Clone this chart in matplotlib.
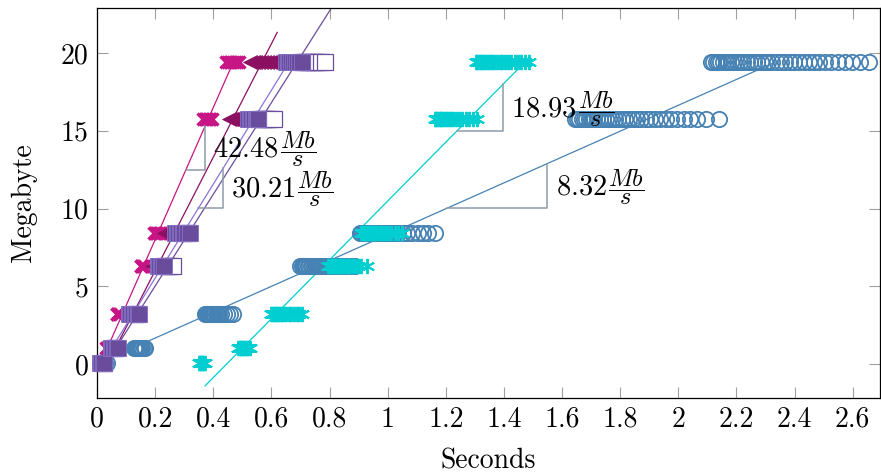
import numpy as np
import matplotlib
matplotlib.use("Agg")
import matplotlib.pyplot as plt

# --- data ---
mb_levels = [0.05, 1.05, 3.2, 6.3, 8.4, 15.75, 19.4]

t_magenta = [
    [0.008, 0.010, 0.013],
    [0.030, 0.033, 0.036, 0.040],
    [0.068, 0.070, 0.072, 0.075, 0.078],
    [0.150, 0.153, 0.156, 0.159, 0.162],
    [0.196, 0.200, 0.204, 0.208, 0.212, 0.216, 0.220],
    [0.365, 0.370, 0.375, 0.380, 0.385, 0.390, 0.396],
    [0.444, 0.450, 0.456, 0.462, 0.468, 0.474, 0.480, 0.489],
]
t_darkmag = [
    [0.015, 0.020, 0.025],
    [0.047, 0.050, 0.054, 0.058],
    [0.110, 0.115, 0.120, 0.125],
    [0.190, 0.195, 0.200, 0.205],
    [0.230, 0.233, 0.236, 0.240],
    [0.454, 0.460, 0.465, 0.470, 0.475, 0.480, 0.485],
    [0.526, 0.535, 0.545, 0.555, 0.565, 0.575, 0.585, 0.595, 0.602],
]
t_slate = [
    [0.020, 0.025],
    [0.060, 0.066],
    [0.130, 0.140],
    [0.230, 0.240, 0.250, 0.262],
    [0.300, 0.312],
    [0.555, 0.566, 0.574, 0.585, 0.596, 0.610],
    [0.702, 0.711, 0.722, 0.731, 0.742, 0.750, 0.761, 0.772, 0.785],
]
t_purple = [
    [0.010, 0.015, 0.020, 0.025],
    [0.048, 0.053, 0.058, 0.063, 0.068, 0.072],
    [0.110, 0.115, 0.120, 0.125, 0.130, 0.135, 0.140, 0.145],
    [0.210, 0.215, 0.220, 0.225, 0.230],
    [0.270, 0.275, 0.280, 0.285, 0.290, 0.295, 0.300, 0.310, 0.320],
    [0.520, 0.525, 0.530, 0.535, 0.540, 0.546, 0.552, 0.555],
    [0.650, 0.656, 0.661, 0.667, 0.673, 0.680, 0.688, 0.696, 0.705],
]
t_cyan = [
    [0.352, 0.356, 0.359, 0.362, 0.366, 0.370],
    [0.486, 0.491, 0.495, 0.500, 0.504, 0.509, 0.514, 0.520, 0.527],
    [0.600, 0.605, 0.610, 0.616, 0.620, 0.626, 0.633, 0.638, 0.645, 0.651,
     0.660, 0.667, 0.677, 0.688, 0.696, 0.705],
    [0.796, 0.800, 0.806, 0.810, 0.815, 0.821, 0.826, 0.833, 0.838, 0.845,
     0.853, 0.860, 0.867, 0.877, 0.886, 0.898, 0.910, 0.930],
    [0.908, 0.912, 0.917, 0.923, 0.927, 0.932, 0.939, 0.944, 0.950, 0.957,
     0.965, 0.972, 0.980, 0.991, 1.000, 1.012, 1.025, 1.037, 1.050],
    [1.163, 1.168, 1.173, 1.179, 1.184, 1.190, 1.196, 1.203, 1.211, 1.218,
     1.226, 1.236, 1.245, 1.256, 1.268, 1.280, 1.294, 1.308],
    [1.304, 1.309, 1.315, 1.320, 1.326, 1.331, 1.338, 1.345, 1.352, 1.360,
     1.367, 1.376, 1.385, 1.395, 1.404, 1.414, 1.425, 1.437, 1.448, 1.460,
     1.473, 1.487],
]
t_steel = [
    [0.012, 0.016, 0.019, 0.022, 0.025, 0.029, 0.034],
    [0.128, 0.131, 0.134, 0.137, 0.140, 0.142, 0.145, 0.148, 0.151, 0.155,
     0.160, 0.166],
    [0.371, 0.374, 0.377, 0.380, 0.383, 0.386, 0.389, 0.392, 0.395, 0.398,
     0.401, 0.404, 0.408, 0.412, 0.416, 0.421, 0.427, 0.436, 0.447, 0.458, 0.468],
    [0.700, 0.704, 0.708, 0.712, 0.716, 0.720, 0.725, 0.730, 0.735, 0.741,
     0.746, 0.752, 0.758, 0.765, 0.772, 0.780, 0.788, 0.797, 0.806, 0.816,
     0.828, 0.842, 0.858, 0.874, 0.889],
    [0.905, 0.909, 0.913, 0.917, 0.921, 0.926, 0.931, 0.936, 0.941, 0.947,
     0.953, 0.960, 0.967, 0.975, 0.983, 0.992, 1.001, 1.012, 1.024, 1.037,
     1.052, 1.068, 1.085, 1.103, 1.121, 1.138, 1.163],
    [1.645, 1.652, 1.660, 1.668, 1.676, 1.684, 1.693, 1.702, 1.711, 1.720,
     1.730, 1.740, 1.750, 1.760, 1.771, 1.782, 1.794, 1.806, 1.818, 1.831,
     1.845, 1.859, 1.873, 1.888, 1.904, 1.921, 1.938, 1.956, 1.975, 1.996,
     2.018, 2.041, 2.066, 2.095, 2.140],
    [2.113, 2.120, 2.128, 2.137, 2.145, 2.154, 2.163, 2.172, 2.182, 2.192,
     2.203, 2.213, 2.224, 2.236, 2.247, 2.259, 2.271, 2.285, 2.297, 2.310,
     2.324, 2.339, 2.352, 2.367, 2.383, 2.398, 2.414, 2.431, 2.448, 2.466,
     2.485, 2.505, 2.527, 2.548, 2.572, 2.598, 2.625, 2.655],
]

# fitted throughput lines: slope (MB/s), intercept, x range
fit_magenta = (42.48, -0.50, 0.012, 0.468)
fit_darkmag = (36.5, -1.30, 0.036, 0.620)
fit_slate = (30.21, -0.52, 0.017, 0.648)
fit_purple = (29.5, -0.89, 0.030, 0.850)
fit_cyan = (18.93, -8.45, 0.372, 1.470)
fit_steel = (8.32, 0.00, 0.100, 2.330)

# slope triangles: which fit, x of left corner, x of right corner, label
triangles = [
    (fit_magenta, 0.306, 0.372, '42.48'),
    (fit_slate, 0.349, 0.434, '30.21'),
    (fit_cyan, 1.239, 1.397, '18.93'),
    (fit_steel, 1.204, 1.549, '8.32'),
]

x_ticks = [0, 0.2, 0.4, 0.6, 0.8, 1, 1.2, 1.4, 1.6, 1.8, 2, 2.2, 2.4, 2.6]
x_tick_labels = ['0', '0.2', '0.4', '0.6', '0.8', '1', '1.2', '1.4', '1.6',
                 '1.8', '2', '2.2', '2.4', '2.6']
y_ticks = [0, 5, 10, 15, 20]

# --- style ---
plt.rcParams['font.family'] = 'serif'
plt.rcParams['font.serif'] = ['cmr10']
plt.rcParams['mathtext.fontset'] = 'cm'
plt.rcParams['axes.unicode_minus'] = False

c_magenta = '#c71585'
c_darkmag = '#8b1062'
c_purple = '#6a4c9c'
c_slate = '#8a74dc'
c_cyan = '#00ced1'
c_steel = '#4682b4'
c_tri = '#8d9ba8'

fig = plt.figure(figsize=(8.81, 4.76), dpi=100)
ax = fig.add_axes([0.1101, 0.1639, 0.8888, 0.8193])


def flat(times):
    xs, ys = [], []
    for lvl, row in zip(mb_levels, times):
        xs += row
        ys += [lvl] * len(row)
    return xs, ys


def fit_line(fit, color):
    k, b, x0, x1 = fit
    xx = np.array([x0, x1])
    ax.plot(xx, k * xx + b, color=color, lw=0.9, zorder=2)


for fit, col in [(fit_magenta, c_magenta), (fit_darkmag, c_darkmag),
                 (fit_slate, c_slate), (fit_purple, c_purple),
                 (fit_cyan, c_cyan), (fit_steel, c_steel)]:
    fit_line(fit, col)

# markers
xs, ys = flat(t_steel)
ax.plot(xs, ys, ls='none', marker='o', ms=11, mfc='none', mec=c_steel,
        mew=1.3, clip_on=False, zorder=3)
xs, ys = flat(t_cyan)
ax.plot(xs, ys, ls='none', marker=(6, 2, 0), ms=11, mec=c_cyan, mew=1.4,
        clip_on=False, zorder=4)
xs, ys = flat(t_magenta)
ax.plot(xs, ys, ls='none', marker='x', ms=9, mec=c_magenta, mew=2.4,
        clip_on=False, zorder=5)
xs, ys = flat(t_darkmag)
ax.plot(xs, ys, ls='none', marker='<', ms=10, mfc=c_darkmag, mec=c_darkmag,
        mew=0.5, clip_on=False, zorder=6)
xs, ys = flat(t_slate)
ax.plot(xs, ys, ls='none', marker='s', ms=11, mfc='white', mec=c_purple,
        mew=0.9, clip_on=False, zorder=7)
xs, ys = flat(t_purple)
ax.plot(xs, ys, ls='none', marker='s', ms=11, mfc=c_purple, mec='#8470c4',
        mew=0.6, clip_on=False, zorder=8)

# slope triangles with labels
for fit, xa, xb, label in triangles:
    k, b = fit[0], fit[1]
    ya, yb = k * xa + b, k * xb + b
    ax.plot([xa, xb, xb], [ya, ya, yb], color=c_tri, lw=1.1, zorder=9)
    num = ax.annotate('$' + label + '$', xy=(xb, (ya + yb) / 2),
                      xytext=(6, -1), textcoords='offset points',
                      ha='left', va='center', fontsize=20.5, zorder=10)
    ax.annotate(r'$\dfrac{Mb}{s}$', xy=(1, 0.5), xycoords=num,
                xytext=(1, 0), textcoords='offset points',
                ha='left', va='center', fontsize=17.5, zorder=10)

ax.set_xlim(0, 2.694)
ax.set_ylim(-2.19, 22.9)
ax.set_xticks(x_ticks)
ax.set_xticklabels(x_tick_labels)
ax.set_yticks(y_ticks)
ax.tick_params(direction='in', length=8, width=0.8, color='#a0a0a0',
               top=True, right=True, labelsize=20, pad=6)
for s in ax.spines.values():
    s.set_linewidth(0.9)
    s.set_color('black')

ax.set_xlabel('Seconds', fontsize=20, labelpad=11)
ax.set_ylabel('Megabyte', fontsize=20, labelpad=17)

fig.savefig('out.png', dpi=100)
